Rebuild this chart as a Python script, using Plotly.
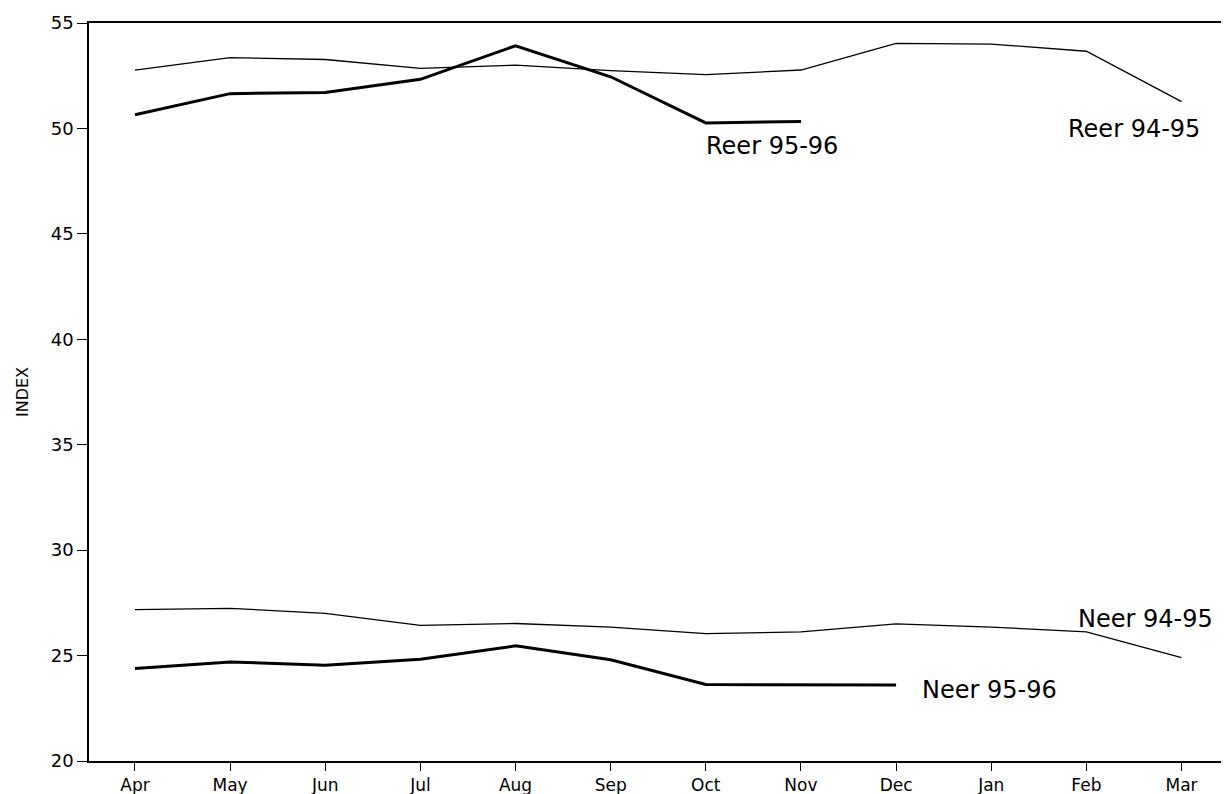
import plotly.graph_objects as go

months = ["Apr", "May", "Jun", "Jul", "Aug", "Sep", "Oct", "Nov", "Dec", "Jan", "Feb", "Mar"]

reer_94_95 = [52.77, 53.36, 53.27, 52.85, 53.0, 52.74, 52.55, 52.77, 54.03, 54.0, 53.66, 51.27]
reer_95_96 = [50.65, 51.65, 51.7, 52.33, 53.92, 52.45, 50.26, 50.33]
neer_94_95 = [27.18, 27.24, 27.0, 26.43, 26.52, 26.35, 26.04, 26.12, 26.5, 26.35, 26.12, 24.9]
neer_95_96 = [24.39, 24.7, 24.54, 24.83, 25.46, 24.8, 23.63, 23.63, 23.6]

y_ticks = [20, 25, 30, 35, 40, 45, 50, 55]

idx = list(range(len(months)))

fig = go.Figure()
series = [
    ("Reer 94-95", reer_94_95, 1.3),
    ("Reer 95-96", reer_95_96, 3.0),
    ("Neer 94-95", neer_94_95, 1.3),
    ("Neer 95-96", neer_95_96, 3.0),
]
for name, vals, w in series:
    fig.add_trace(go.Scatter(
        x=idx[:len(vals)], y=vals, mode="lines", name=name,
        line=dict(color="black", width=w), showlegend=False,
    ))

# label placement: (x, y, xanchor)
label_pos = {
    "Reer 95-96": (5.98, 49.15, "left"),
    "Reer 94-95": (11.21, 49.95, "right"),
    "Neer 94-95": (11.35, 26.75, "right"),
    "Neer 95-96": (8.25, 23.36, "left"),
}
for name, (lx, ly, anc) in label_pos.items():
    fig.add_annotation(x=lx, y=ly, text=name, showarrow=False,
                       font=dict(family="DejaVu Sans", size=24, color="black"),
                       xanchor=anc, yanchor="middle")

fig.update_layout(
    width=1229, height=794,
    margin=dict(l=81, r=4, t=11, b=41),
    paper_bgcolor="white", plot_bgcolor="white",
    font=dict(family="DejaVu Sans", color="black"),
)
fig.update_xaxes(
    range=[-0.483, 11.52], tickmode="array", tickvals=idx, ticktext=months,
    showgrid=False, zeroline=False, showline=True, linecolor="black", linewidth=1.5,
    mirror=True, ticks="outside", ticklen=8, tickwidth=1.2, tickcolor="black",
    tickfont=dict(family="DejaVu Sans", size=17, color="black"),
)
fig.update_yaxes(
    range=[20, 55], tickmode="array", tickvals=y_ticks,
    showgrid=False, zeroline=False, showline=True, linecolor="black", linewidth=1.5,
    mirror=True, ticks="outside", ticklen=10, tickwidth=1.2, tickcolor="black",
    tickfont=dict(family="DejaVu Sans", size=18, color="black"),
    title=dict(text="INDEX", font=dict(family="DejaVu Sans", size=16, color="black"), standoff=18),
)

fig.write_html("out.html")
